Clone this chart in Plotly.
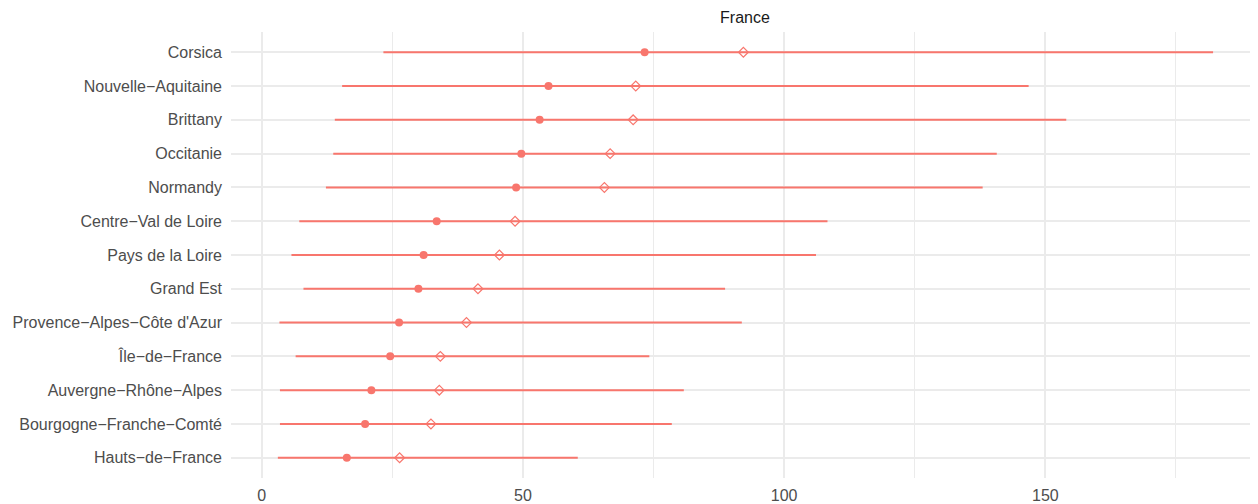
import plotly.graph_objects as go

regions = ["Corsica", "Nouvelle−Aquitaine", "Brittany", "Occitanie", "Normandy",
           "Centre−Val de Loire", "Pays de la Loire", "Grand Est",
           "Provence−Alpes−Côte d'Azur", "Île−de−France", "Auvergne−Rhône−Alpes",
           "Bourgogne−Franche−Comté", "Hauts−de−France"]
low = [23.3, 15.4, 14.0, 13.7, 12.3, 7.2, 5.7, 8.0, 3.4, 6.5, 3.5, 3.5, 3.1]
point = [73.3, 54.9, 53.2, 49.7, 48.7, 33.5, 31.0, 30.0, 26.3, 24.6, 21.0, 19.8, 16.3]
diamond = [92.2, 71.6, 71.1, 66.7, 65.6, 48.5, 45.5, 41.4, 39.2, 34.2, 34.0, 32.4, 26.4]
high = [182.1, 146.8, 154.0, 140.7, 138.0, 108.3, 106.1, 88.7, 91.9, 74.2, 80.8, 78.5, 60.5]

tick_vals = [0, 50, 100, 150]
tick_text = ["0", "50", "100", "150"]

color = "#F8766D"

seg_x, seg_y = [], []
for r, lo, hi in zip(regions, low, high):
    seg_x += [lo, hi, None]
    seg_y += [r, r, None]

fig = go.Figure()
fig.add_trace(go.Scatter(x=seg_x, y=seg_y, mode="lines",
                         line=dict(color=color, width=2), hoverinfo="skip"))
fig.add_trace(go.Scatter(x=point, y=regions, mode="markers",
                         marker=dict(color=color, size=8, symbol="circle")))
fig.add_trace(go.Scatter(x=diamond, y=regions, mode="markers",
                         marker=dict(color=color, size=7.5, symbol="diamond-open",
                                     line=dict(color=color, width=1.2))))

fig.update_layout(
    width=1250, height=496,
    margin=dict(l=223, r=0, t=24, b=26),
    paper_bgcolor="white", plot_bgcolor="white",
    showlegend=False,
    font=dict(family="Liberation Sans, Arial, sans-serif", size=16, color="#4D4D4D"),
    title=dict(text="France", xref="container", x=737 / 1250, xanchor="center",
               yref="container", y=1 - 9 / 496, yanchor="middle",
               font=dict(size=16, color="#1A1A1A")),
    xaxis=dict(range=[-5.87, 190.7], tickvals=tick_vals, ticktext=tick_text,
               showgrid=True, gridcolor="#EBEBEB", gridwidth=1.5,
               minor=dict(tickvals=[25, 75, 125, 175], showgrid=True,
                          gridcolor="#EBEBEB", gridwidth=1.0),
               zeroline=False, showline=False, ticks="", ticklabelstandoff=6,
               tickfont=dict(size=16, color="#4D4D4D")),
    yaxis=dict(categoryorder="array", categoryarray=regions[::-1],
               range=[-0.6, 12.6], showgrid=True, gridcolor="#EBEBEB", gridwidth=1.5,
               zeroline=False, showline=False, ticks="", ticklabelstandoff=8,
               tickfont=dict(size=16, color="#4D4D4D")),
)

fig.write_html("out.html")
